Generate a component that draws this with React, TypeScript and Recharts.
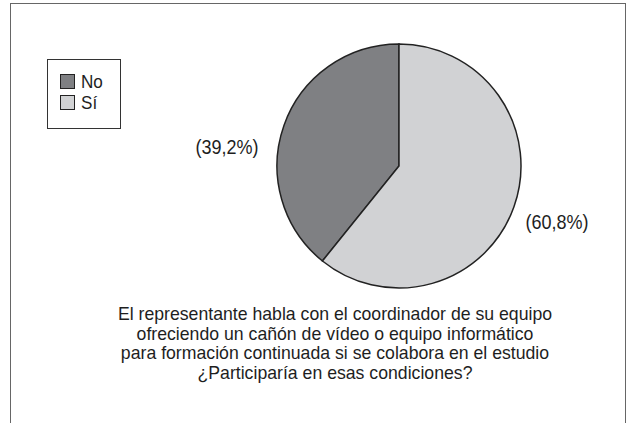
import { Legend, Pie, PieChart, Cell } from 'recharts';

const categories = ['No', 'Sí'];
const values = [39.2, 60.8];
const labels = ['(39,2%)', '(60,8%)'];
const colors = ['#7f8083', '#d1d2d4'];

const data = categories.map((name, i) => ({ name, value: values[i] }));

const FONT = '"Liberation Sans", Arial, sans-serif';
const SQUEEZE = 0.9;
const TITLE_SQUEEZE = 0.93;

const labelOffsets = [
  { dx: -50, dy: -19 },
  { dx: 36, dy: 56 }
];

function renderLabel(props: any) {
  const { cx, cy, outerRadius, index } = props;
  const off = labelOffsets[index];
  const x = index === 0 ? cx - outerRadius + off.dx : cx + outerRadius + off.dx;
  return (
    <text
      x={0}
      y={0}
      transform={`translate(${x},${cy + off.dy}) scale(${SQUEEZE},1)`}
      textAnchor="middle"
      dominantBaseline="central"
      fill="#1e1e1e"
      fontSize={20}
      fontFamily={FONT}
    >
      {labels[index]}
    </text>
  );
}

function renderLegend(props: any) {
  const { payload } = props;
  return (
    <div
      style={{
        border: '1.5px solid #333',
        width: 74,
        height: 70,
        boxSizing: 'border-box',
        padding: '11px 0 0 12px',
        background: '#fff'
      }}
    >
      {payload.map((entry: any) => (
        <div
          key={entry.value}
          style={{ display: 'flex', alignItems: 'center', height: 21, fontFamily: FONT, fontSize: 19, color: '#1e1e1e' }}
        >
          <span
            style={{
              display: 'inline-block',
              width: 13,
              height: 13,
              background: entry.color,
              border: '1.5px solid #222',
              marginRight: 6
            }}
          />
          <span style={{ display: 'inline-block', transform: `scaleX(${SQUEEZE})`, transformOrigin: 'left center' }}>
            {entry.value}
          </span>
        </div>
      ))}
    </div>
  );
}

export default function App() {
  return (
    <div style={{ position: 'absolute', left: 0, top: 0, width: 631, height: 423, background: '#fff', overflow: 'hidden' }}>
      <div
        style={{
          position: 'absolute',
          left: 10,
          top: 3,
          width: 616,
          height: 440,
          border: '1.5px solid #666',
          borderBottom: 'none',
          boxSizing: 'border-box'
        }}
      />
      <PieChart
        width={631}
        height={423}
        margin={{ top: 0, right: 0, bottom: 0, left: 0 }}
        style={{ position: 'absolute', left: 0, top: 0 }}
      >
        <Pie
          data={data}
          dataKey="value"
          nameKey="name"
          cx={399}
          cy={166}
          outerRadius={122}
          startAngle={90}
          endAngle={450}
          stroke="#222"
          strokeWidth={1.5}
          label={renderLabel}
          labelLine={false}
          isAnimationActive={false}
        >
          {data.map((d, i) => (
            <Cell key={d.name} fill={colors[i]} />
          ))}
        </Pie>
        <Legend
          layout="vertical"
          content={renderLegend}
          wrapperStyle={{ position: 'absolute', left: 47, top: 59, width: 'auto' }}
        />
      </PieChart>
      <div
        style={{
          position: 'absolute',
          left: 15,
          width: 640,
          top: 304,
          textAlign: 'center',
          fontFamily: FONT,
          fontSize: 19,
          lineHeight: '19.5px',
          color: '#1e1e1e',
          transform: `scaleX(${TITLE_SQUEEZE})`,
          transformOrigin: 'center'
        }}
      >
        El representante habla con el coordinador de su equipo
        <br />
        ofreciendo un cañón de vídeo o equipo informático
        <br />
        para formación continuada si se colabora en el estudio
        <br />
        ¿Participaría en esas condiciones?
      </div>
    </div>
  );
}
